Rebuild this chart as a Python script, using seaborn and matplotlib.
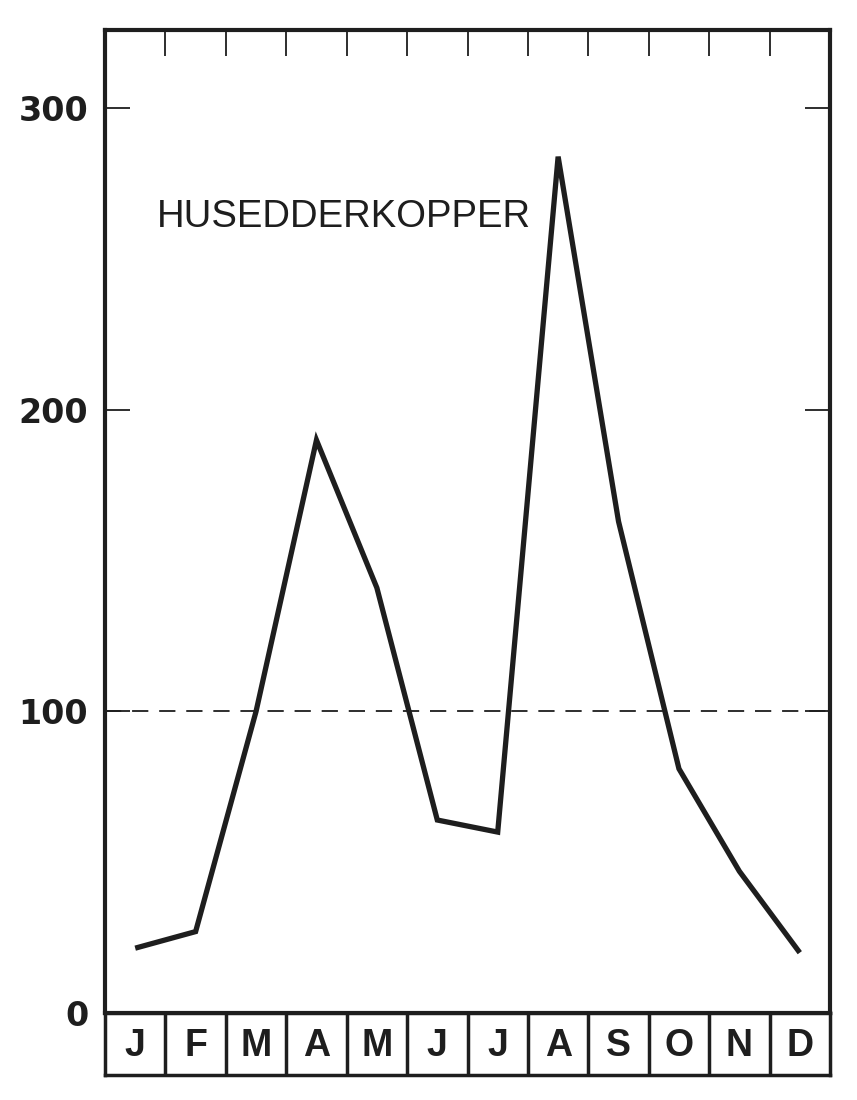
import numpy as np
import pandas as pd
import matplotlib
matplotlib.use("Agg")
import matplotlib.pyplot as plt
import seaborn as sns

# ---- data ----
months = ["J", "F", "M", "A", "M", "J", "J", "A", "S", "O", "N", "D"]
counts = [21.5, 27, 100, 190, 141, 64, 60, 284, 163, 81, 47, 20]
reference_level = 100
ytick_values = [0, 100, 200, 300]
label_text = "HUSEDDERKOPPER"

sns.set_theme(style="white")
plt.rcParams["font.family"] = ["Liberation Sans", "DejaVu Sans"]

ink = "#1e1e1e"
W, H = 857, 1100
fig = plt.figure(figsize=(W / 100, H / 100), dpi=100)
fig.patch.set_facecolor("white")

ax = fig.add_axes([105 / W, 1 - 1013 / H, 725 / W, 983 / H])
axm = fig.add_axes([105 / W, 1 - 1075 / H, 725 / W, 62 / H])

df = pd.DataFrame({"pos": np.arange(len(months)), "count": counts})
sns.lineplot(data=df, x="pos", y="count", ax=ax, color=ink, linewidth=3.8,
             solid_joinstyle="miter", solid_capstyle="butt")
ax.axhline(reference_level, color=ink, lw=1.3, ls=(0, (9, 6)), zorder=1)

ax.set_xlim(-0.5, len(months) - 0.5)
ax.set_ylim(0, 326)
ax.set_xlabel("")
ax.set_ylabel("")

# top ticks at month boundaries
ax.set_xticks(np.arange(0.5, len(months) - 1, 1.0))
ax.tick_params(axis="x", which="both", bottom=False, top=True, labelbottom=False,
               labeltop=False, direction="in", length=19, width=1.3, color=ink)
ax.set_yticks(ytick_values)
ax.set_yticklabels([str(v) for v in ytick_values], fontweight="bold",
                   family=["DejaVu Sans"], fontsize=24, color=ink)
ax.tick_params(axis="y", left=True, right=True, direction="in", length=18,
               width=1.3, color=ink, pad=12)
for s in ax.spines.values():
    s.set_visible(True)
    s.set_linewidth(3)
    s.set_color(ink)

ax.text(0.36, 264, label_text, fontsize=27.5, color=ink, ha="left", va="center",
        family=["Liberation Sans", "DejaVu Sans"])

# month boxes
axm.set_xlim(-0.5, len(months) - 0.5)
axm.set_ylim(0, 1)
axm.vlines(np.arange(0.5, len(months) - 1, 1.0), 0, 1, color=ink, lw=2.5)
for i, m in enumerate(months):
    axm.text(i, 0.47, m, ha="center", va="center", fontsize=27,
             fontweight="bold", color=ink)
axm.set_xticks([])
axm.set_yticks([])
for s in axm.spines.values():
    s.set_visible(True)
    s.set_linewidth(2.5)
    s.set_color(ink)

fig.savefig("out.png", dpi=100, facecolor="white")
